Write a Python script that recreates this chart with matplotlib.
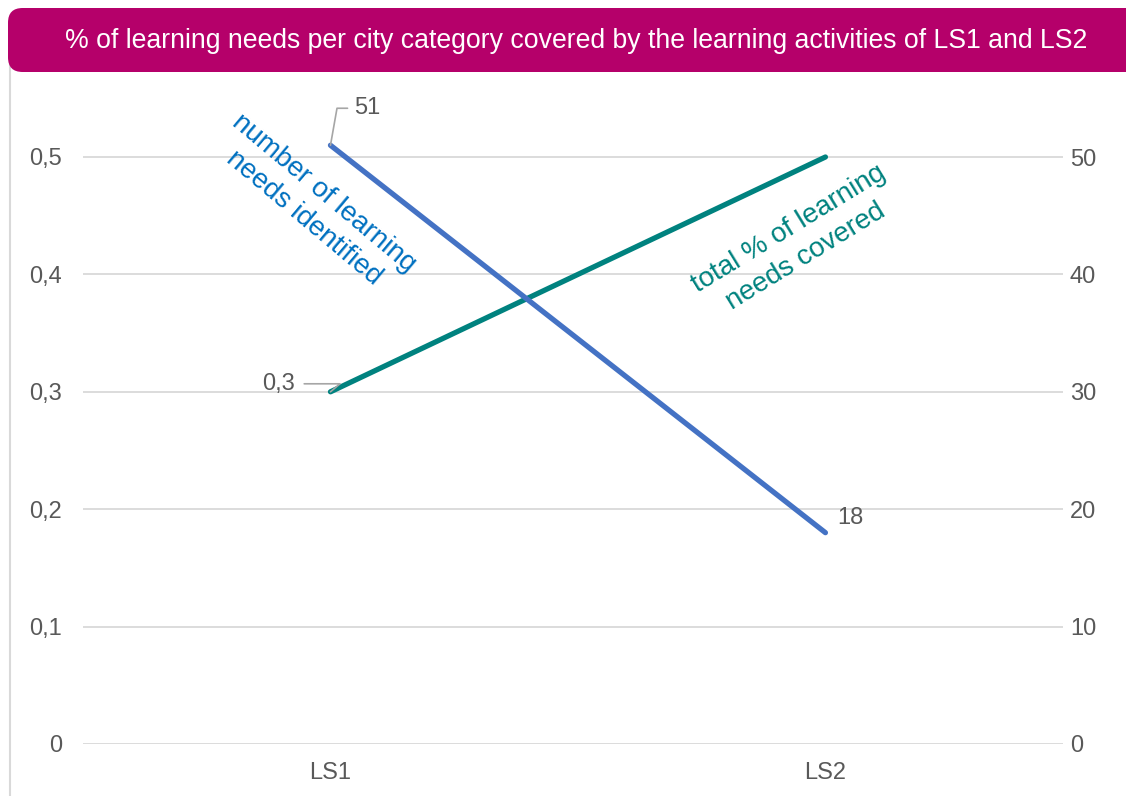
import numpy as np
import matplotlib.pyplot as plt
from matplotlib.patches import FancyBboxPatch
from matplotlib.lines import Line2D
from matplotlib.ticker import FuncFormatter

plt.rcParams['font.family'] = ['Liberation Sans', 'DejaVu Sans']

# data
categories = ['LS1', 'LS2']
pct_covered = [0.3, 0.5]        # left axis
needs_identified = [51, 18]     # right axis
left_ticks = [0, 0.1, 0.2, 0.3, 0.4, 0.5]
right_ticks = [0, 10, 20, 30, 40, 50]

title = '% of learning needs per city category covered by the learning activities of LS1 and LS2'
banner_col = '#B5006A'
teal = '#00827F'
blue = '#4472C4'
text_blue = '#0070C0'
grey = '#595959'

fig = plt.figure(figsize=(11.26, 7.96), dpi=100)
W, H = 1126, 796

ax = fig.add_axes([83 / W, (796 - 744) / H, 980 / W, (744 - 39.6) / H])
ax2 = ax.twinx()
x = np.arange(len(categories))

ax.plot(x, pct_covered, color=teal, lw=3.8, solid_capstyle='round', zorder=3)
ax2.plot(x, needs_identified, color=blue, lw=3.8, solid_capstyle='round', zorder=3)

ax.set_xlim(-0.5, 1.48)
ax.set_ylim(0, 0.6)
ax2.set_ylim(0, 60)
ax.set_xticks(x)
ax.set_xticklabels(categories)
ax.set_yticks(left_ticks)
ax2.set_yticks(right_ticks)
ax.yaxis.set_major_formatter(FuncFormatter(lambda v, p: ('%g' % round(v, 2)).replace('.', ',')))
ax.grid(axis='y', color='#D9D9D9', lw=1.3)
ax.set_axisbelow(True)

for a in (ax, ax2):
    for s in a.spines.values():
        s.set_visible(False)
    a.tick_params(length=0, labelsize=17, labelcolor=grey)
ax.tick_params(axis='y', pad=15)
ax2.tick_params(axis='y', pad=5)
ax.tick_params(axis='x', pad=13)

# data labels
ax2.annotate(str(needs_identified[0]), (x[0], needs_identified[0]), xytext=(24, 37),
             textcoords='offset pixels', ha='left', va='center', fontsize=17, color=grey,
             arrowprops=dict(arrowstyle='-', color='#A6A6A6', lw=1.2,
                             connectionstyle='angle,angleA=0,angleB=80,rad=0',
                             shrinkA=3, shrinkB=0))
ax.annotate(('%g' % pct_covered[0]).replace('.', ','), (x[0], pct_covered[0]), xytext=(-36, 8),
            textcoords='offset pixels', ha='right', va='center', fontsize=17, color=grey,
            arrowprops=dict(arrowstyle='-', color='#A6A6A6', lw=1.2,
                            connectionstyle='angle,angleA=0,angleB=40,rad=0',
                            shrinkA=5, shrinkB=0))
ax2.annotate(str(needs_identified[1]), (x[1], needs_identified[1]), xytext=(12, 15),
             textcoords='offset pixels', ha='left', va='center', fontsize=17, color=grey)

# series captions
fig.text(314 / W, 1 - 206 / H, 'number of learning\nneeds identified', rotation=-40,
         rotation_mode='anchor', ha='center', va='center', fontsize=20, color=text_blue,
         linespacing=1.3)
fig.text(797 / W, 1 - 243 / H, 'total % of learning\nneeds covered', rotation=31.5,
         rotation_mode='anchor', ha='center', va='center', fontsize=20, color=teal,
         linespacing=1.3)

# title banner and left frame line
fig.add_artist(Line2D([10 / W, 10 / W], [0, 1 - 20 / H], color='#D9D9D9', lw=1.5, zorder=1))
fig.add_artist(FancyBboxPatch((8 / W, 1 - 72 / H), 1140 / W, 64 / H,
                              boxstyle='round,pad=0,rounding_size=0.013',
                              mutation_aspect=W / H, fc=banner_col, ec='none', zorder=5))
fig.text(576 / W, 1 - 41 / H, title, ha='center', va='center', fontsize=19.2,
         color='white', zorder=6)

fig.savefig('out.png', dpi=100)
